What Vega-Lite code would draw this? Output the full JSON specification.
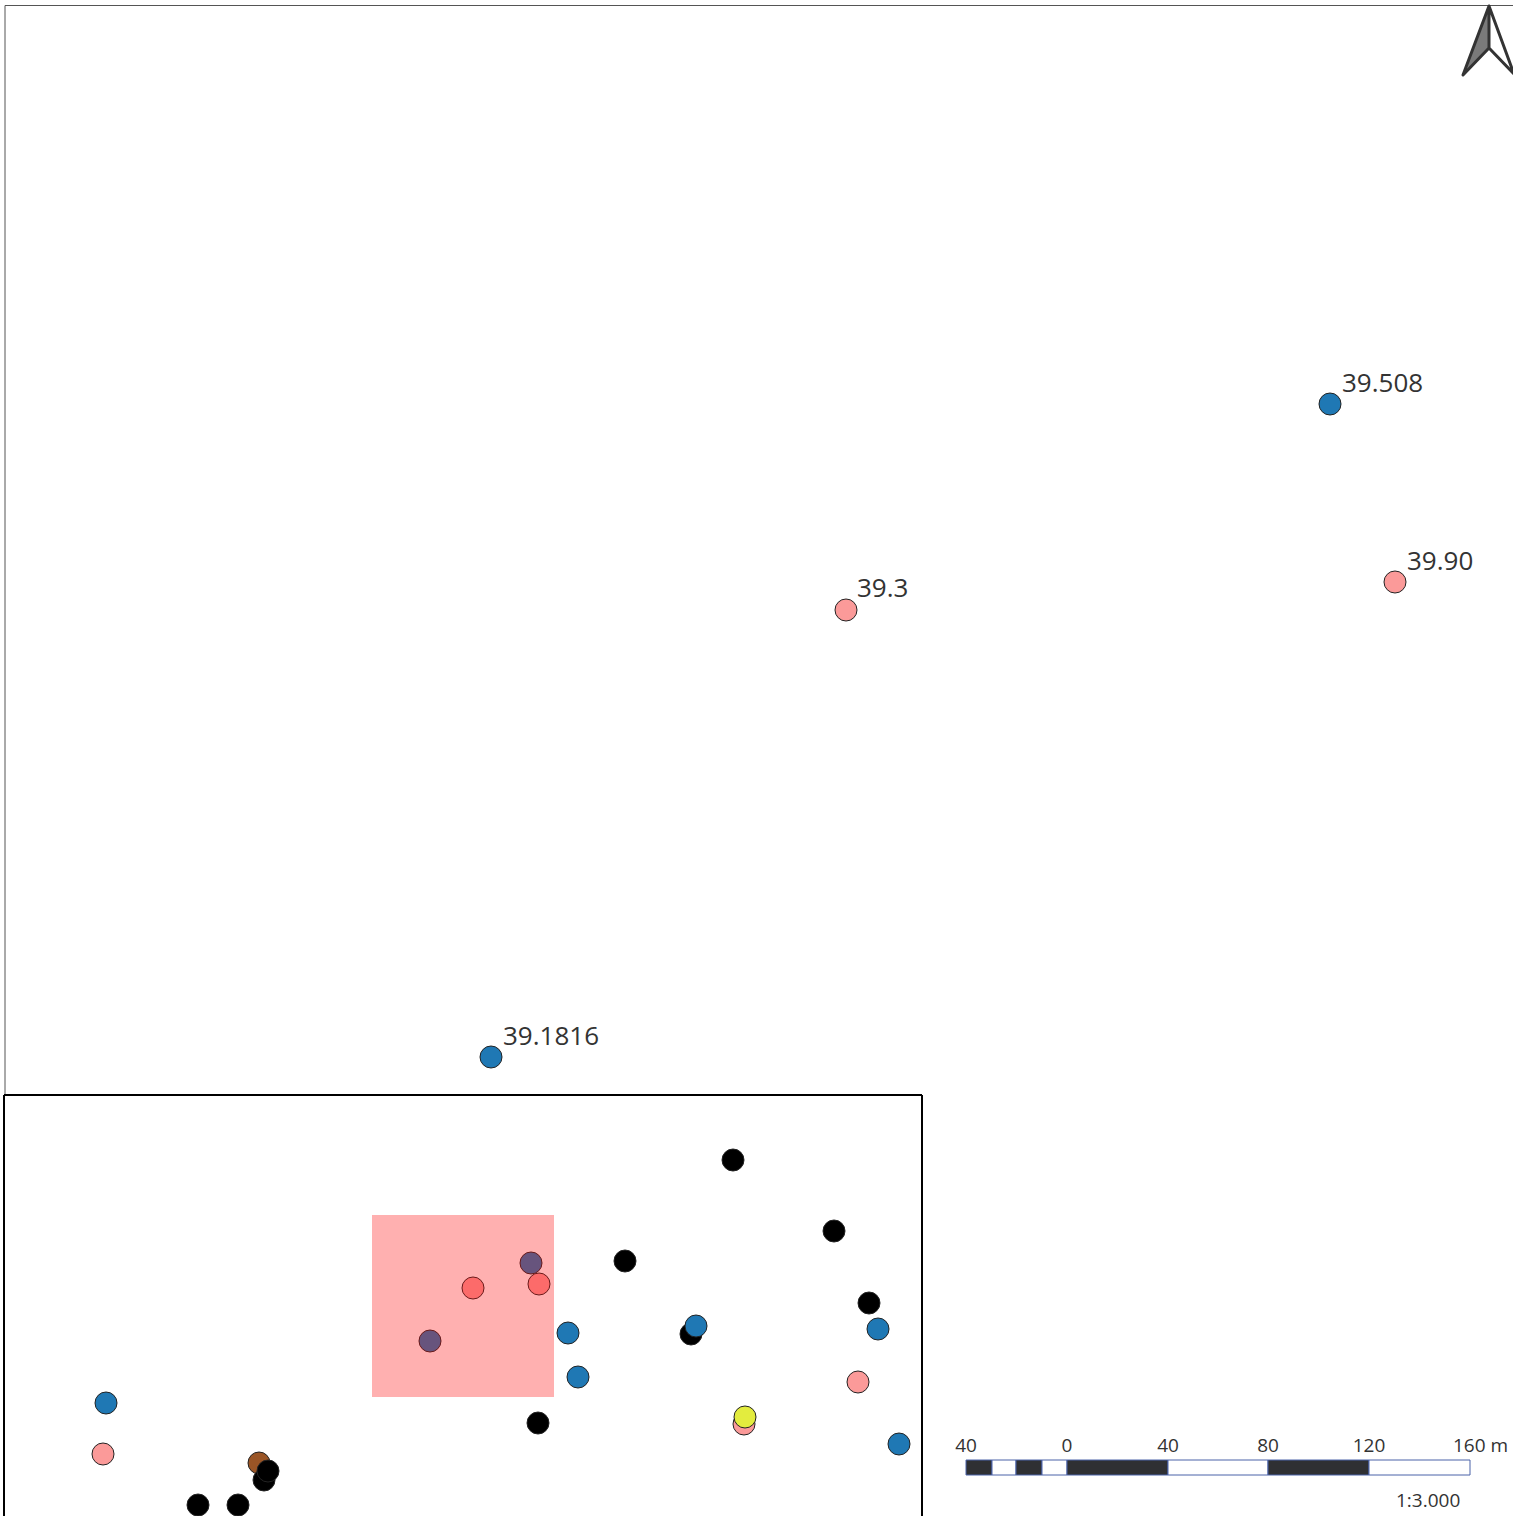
{
"$schema":"https://vega.github.io/schema/vega-lite/v6.json",
"width":1513,"height":1516,"padding":0,
"autosize":{"type":"none"},
"background":"white",
"config":{"view":{"stroke":null}},
"datasets":{
"points":[
{"x":1330,"y":404,"type":"blue"},{"x":1395,"y":582,"type":"pink"},{"x":846,"y":610,"type":"pink"},{"x":491,"y":1057,"type":"blue"},
{"x":733,"y":1160,"type":"black"},{"x":834,"y":1231,"type":"black"},{"x":625,"y":1261,"type":"black"},{"x":869,"y":1303,"type":"black"},
{"x":691,"y":1334,"type":"black"},{"x":696,"y":1326,"type":"blue"},{"x":878,"y":1329,"type":"blue"},{"x":568,"y":1333,"type":"blue"},{"x":578,"y":1377,"type":"blue"},
{"x":531,"y":1263,"type":"blue"},{"x":430,"y":1341,"type":"blue"},{"x":473,"y":1288,"type":"pink"},{"x":539,"y":1284,"type":"pink"},
{"x":858,"y":1382,"type":"pink"},{"x":744,"y":1424,"type":"pink"},{"x":745,"y":1417,"type":"yellow"},{"x":538,"y":1423,"type":"black"},{"x":899,"y":1444,"type":"blue"},
{"x":106,"y":1403,"type":"blue"},{"x":103,"y":1454,"type":"pink"},{"x":259,"y":1463,"type":"brown"},{"x":264,"y":1480,"type":"black"},{"x":268,"y":1471,"type":"black"},{"x":198,"y":1505,"type":"black"},{"x":238,"y":1505,"type":"black"}
],
"labels":[
{"x":1342,"y":392,"t":"39.508"},{"x":1407,"y":570,"t":"39.90"},{"x":857,"y":597,"t":"39.3"},{"x":503,"y":1045,"t":"39.1816"}
],
"scalebar":[
{"x":966,"x2":992,"c":"d"},{"x":992,"x2":1016,"c":"w"},{"x":1016,"x2":1042,"c":"d"},{"x":1042,"x2":1067,"c":"w"},
{"x":1067,"x2":1168,"c":"d"},{"x":1168,"x2":1268,"c":"w"},{"x":1268,"x2":1369,"c":"d"},{"x":1369,"x2":1470,"c":"w"}
],
"scaletext":[
{"x":966,"t":"40"},{"x":1067,"t":"0"},{"x":1168,"t":"40"},{"x":1268,"t":"80"},{"x":1369,"t":"120"},{"x":1480.5,"t":"160 m"}
]
},
"encoding":{
"x":{"field":"x","type":"quantitative","scale":{"domain":[0,1513],"nice":false,"zero":false},"axis":null},
"y":{"field":"y","type":"quantitative","scale":{"domain":[1516,0],"nice":false,"zero":false},"axis":null}
},
"resolve":{"scale":{"fill":"independent"}},
"layer":[
{"data":{"values":[{"x":5,"x2":1513,"y":5.5}]},"mark":{"type":"rule","color":"#555555","strokeWidth":1},"encoding":{"x2":{"field":"x2"}}},
{"data":{"values":[{"x":5,"y":5.5,"y2":1095}]},"mark":{"type":"rule","color":"#555555","strokeWidth":1},"encoding":{"y2":{"field":"y2"}}},
{"data":{"values":[{"x":4,"x2":922,"y":1095}]},"mark":{"type":"rule","color":"#000000","strokeWidth":2},"encoding":{"x2":{"field":"x2"}}},
{"data":{"values":[{"x":4,"y":1095,"y2":1516},{"x":922,"y":1095,"y2":1516}]},"mark":{"type":"rule","color":"#000000","strokeWidth":2},"encoding":{"y2":{"field":"y2"}}},
{"data":{"name":"points"},"mark":{"type":"point","filled":true,"shape":"circle","size":484,"opacity":1,"stroke":"#232323","strokeWidth":1},
 "encoding":{"fill":{"field":"type","type":"nominal","legend":null,"scale":{"domain":["blue","pink","black","yellow","brown"],"range":["#1f78b4","#fb9a99","#000000","#e3ec3e","#9a5526"]}}}},
{"data":{"values":[{"x":372,"x2":554,"y":1215,"y2":1397}]},"mark":{"type":"rect","color":"#ff0a0a","opacity":0.32},"encoding":{"x2":{"field":"x2"},"y2":{"field":"y2"}}},
{"data":{"name":"labels"},"mark":{"type":"text","font":"Open Sans","fontSize":26,"align":"left","baseline":"alphabetic","color":"#333333"},"encoding":{"text":{"field":"t"}}},
{"data":{"values":[{"x":1463,"y":75,"y2":75},{"x":1489,"y":6,"y2":48}]},"mark":{"type":"area","color":"#7a7a7a","opacity":1},"encoding":{"y2":{"field":"y2"}}},
{"data":{"values":[{"i":0,"x":1463,"y":75},{"i":1,"x":1489,"y":6},{"i":2,"x":1514,"y":74},{"i":3,"x":1489,"y":48},{"i":4,"x":1463,"y":75},{"i":5,"x":1489,"y":6},{"i":6,"x":1489,"y":48}]},"mark":{"type":"line","color":"#333333","strokeWidth":3,"strokeJoin":"round"},"encoding":{"order":{"field":"i"}}},
{"data":{"name":"scalebar"},"transform":[{"calculate":"1460","as":"y"},{"calculate":"1475","as":"y2"}],"mark":{"type":"rect","stroke":"#4a62a8","strokeWidth":1},"encoding":{"x2":{"field":"x2"},"y2":{"field":"y2"},"fill":{"field":"c","type":"nominal","legend":null,"scale":{"domain":["d","w"],"range":["#2f3033","#ffffff"]}}}},
{"data":{"name":"scaletext"},"transform":[{"calculate":"1452","as":"y"}],"mark":{"type":"text","font":"Open Sans","fontSize":19,"align":"center","baseline":"alphabetic","color":"#333333"},"encoding":{"text":{"field":"t"}}},
{"data":{"values":[{"x":1396,"y":1507,"t":"1:3.000"}]},"mark":{"type":"text","font":"Open Sans","fontSize":19,"align":"left","baseline":"alphabetic","color":"#333333"},"encoding":{"text":{"field":"t"}}}
]
}
